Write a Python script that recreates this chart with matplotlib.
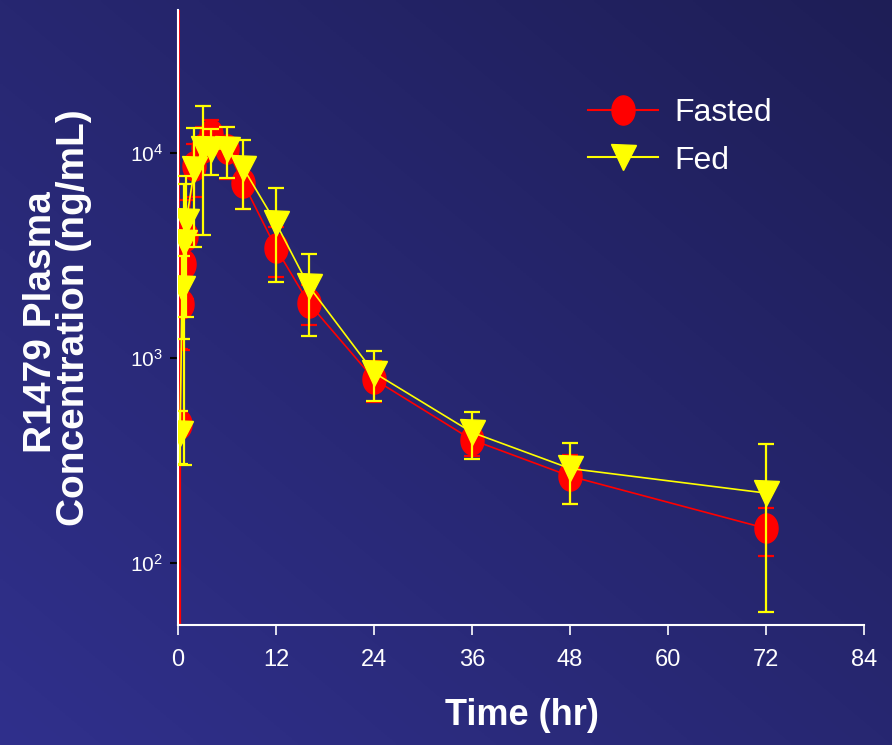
import numpy as np
import matplotlib
matplotlib.use('Agg')
import matplotlib.pyplot as plt
from matplotlib.path import Path
from matplotlib.lines import Line2D
from matplotlib import font_manager
from matplotlib.ticker import FixedLocator, NullLocator, FuncFormatter

# sampling times (hr)
times = [0.25, 0.5, 0.75, 1, 2, 3, 4, 6, 8, 12, 16, 24, 36, 48, 72]

# mean +/- SD plasma concentration (ng/mL)
fasted_mean = [480, 1850, 2880, 3940, 8650, 10600, 12400, 10500, 7140, 3440, 1860, 790, 400, 266, 148]
fasted_sd = [630, 750, 900, 2000, 2500, 2800, 2060, 3000, 1770, 940, 410, 180, 65, 72, 39]
fed_mean = [430, 2200, 3680, 4660, 8360, 10500, 10500, 10500, 8450, 4560, 2250, 850, 435, 290, 220]
fed_sd = [125, 960, 3380, 3070, 4880, 6500, 2700, 2900, 3100, 2200, 960, 230, 112, 95, 162]

x_ticks = [0, 12, 24, 36, 48, 60, 72, 84]
y_ticks = [100, 1000, 10000]

names = {f.name for f in font_manager.fontManager.ttflist}
narrow = 'Liberation Sans Narrow' if 'Liberation Sans Narrow' in names else 'Liberation Sans'
plt.rcParams['font.family'] = [narrow, 'DejaVu Sans']
plt.rcParams['mathtext.default'] = 'regular'

fig = plt.figure(figsize=(8.92, 7.45), dpi=100)

# navy background, lighter towards the lower left
bg = fig.add_axes([0, 0, 1, 1], zorder=-1)
xx, yy = np.meshgrid(np.linspace(0, 1, 300), np.linspace(0, 1, 300))
u = (0.5 * (xx + yy))[..., None]
light = np.array([48, 48, 140]) / 255
dark = np.array([30, 30, 86]) / 255
bg.imshow(light * (1 - u) + dark * u, aspect='auto', extent=[0, 1, 0, 1], origin='lower')
bg.axis('off')

ax = fig.add_axes([0.1996, 0.1611, 0.7690, 0.8255])
ax.set_facecolor('none')

# tall ellipse marker
t = np.linspace(0, 2 * np.pi, 80)
ellipse = Path(np.column_stack([0.79 * np.cos(t), np.sin(t)]), closed=True)

ax.axvline(0.15, color='red', lw=1.3, zorder=1)

ax.errorbar(times, fasted_mean, yerr=fasted_sd, color='red', lw=1.2,
            marker=ellipse, ms=21, mfc='red', mec='red',
            elinewidth=1.6, capsize=5.5, capthick=1.6, zorder=2)
ax.errorbar(times, fed_mean, yerr=fed_sd, color='yellow', lw=1.2,
            marker='v', ms=18, mfc='yellow', mec='yellow',
            elinewidth=1.6, capsize=5.5, capthick=1.6, zorder=3)

ax.set_yscale('log', nonpositive='clip')
ax.set_ylim(50, 50000)
ax.set_xlim(0, 84)

ax.xaxis.set_major_locator(FixedLocator(x_ticks))
ax.yaxis.set_major_locator(FixedLocator(y_ticks))
ax.yaxis.set_minor_locator(NullLocator())
ax.yaxis.set_major_formatter(FuncFormatter(lambda v, p: r'$10^{%d}$' % round(np.log10(v))))

for s in ['top', 'right']:
    ax.spines[s].set_visible(False)
for s in ['left', 'bottom']:
    ax.spines[s].set_color('white')
    ax.spines[s].set_linewidth(1.5)

ax.tick_params(axis='x', colors='white', length=7, width=1.2, pad=10, labelsize=17)
ax.tick_params(axis='y', color='black', labelcolor='white', length=6, width=1.5, pad=5, labelsize=15)

fig.text(0.5852, 0.040, 'Time (hr)', color='white', fontsize=26, fontweight='bold',
         ha='center', va='center')
fig.text(0.0455, 0.568, 'R1479 Plasma', color='white', fontsize=28, fontweight='bold',
         family='Liberation Sans', rotation=90, ha='center', va='center')
fig.text(0.0830, 0.574, 'Concentration (ng/mL)', color='white', fontsize=28, fontweight='bold',
         family='Liberation Sans', rotation=90, ha='center', va='center')

handles = [Line2D([], [], color='red', lw=1.5, marker=ellipse, ms=21, mfc='red', mec='red'),
           Line2D([], [], color='yellow', lw=1.5, marker='v', ms=18, mfc='yellow', mec='yellow')]
leg = fig.legend(handles, ['Fasted', 'Fed'], loc='upper left', bbox_to_anchor=(588 / 892, 1 - 98 / 745),
                 frameon=False, fontsize=23, handlelength=2.2, handletextpad=0.5,
                 labelspacing=0.55, borderpad=0, borderaxespad=0)
for txt in leg.get_texts():
    txt.set_color('white')

fig.savefig('out.png', dpi=100)
